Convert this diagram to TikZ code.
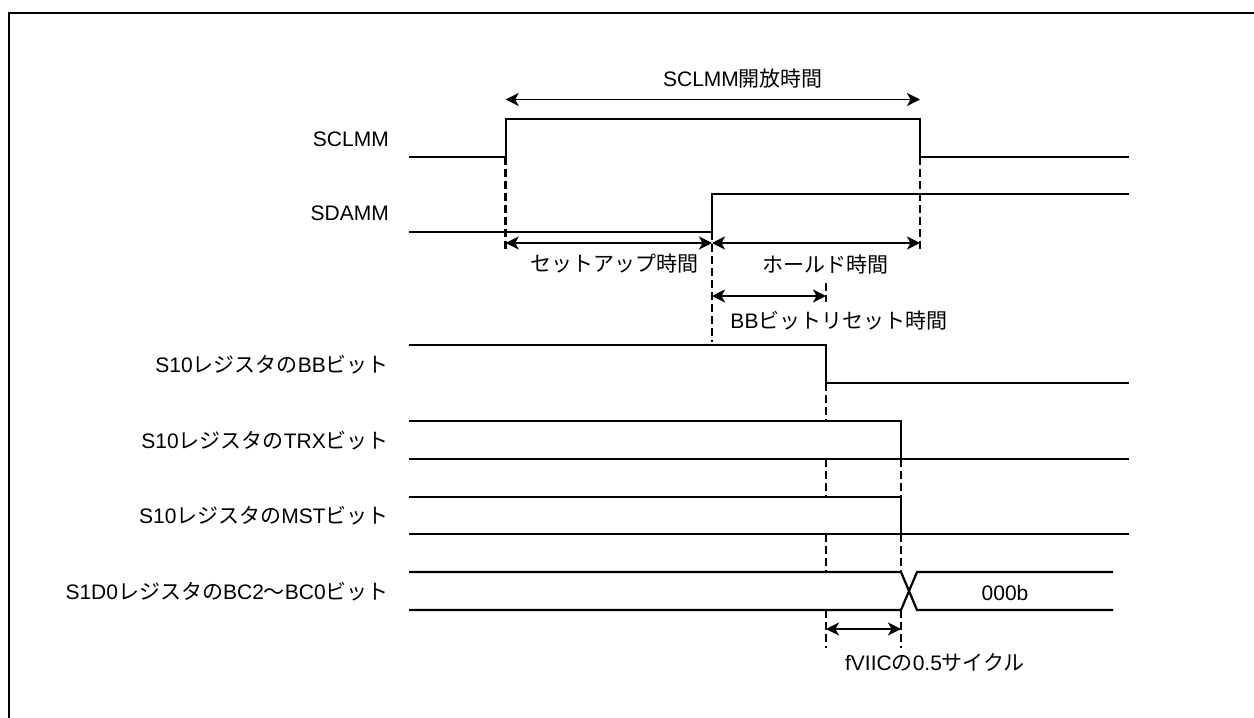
\documentclass[tikz,border=0pt]{standalone}
\usepackage{fontspec}
\setmainfont{Liberation Sans}
\newfontfamily\jpfont{Noto Sans CJK JP}
\newcommand{\jtxt}[1]{{\jpfont #1}}
\usetikzlibrary{arrows.meta}

\tikzstyle{sigline}=[line width=2.2pt]
\tikzstyle{guide}=[line width=2.5pt,dash pattern=on 8pt off 4pt]
\tikzstyle{dimarrow}=[line width=1.7pt,{Stealth[length=13pt,width=13pt,inset=3.5pt]}-{Stealth[length=13pt,width=13pt,inset=3.5pt]}]
\tikzstyle{sname}=[anchor=base east,inner sep=0pt,font=\fontsize{21}{25}\selectfont]
\tikzstyle{dimlabel}=[anchor=base,inner sep=0pt,font=\fontsize{21}{25}\selectfont]

\begin{document}
\begin{tikzpicture}[x=1pt,y=-1pt]
\useasboundingbox (0,0) rectangle (1254,718);
\draw[line width=2.4pt] (9,720) -- (9,13) -- (1256,13);

% signal names
\foreach \pos/\name/\txt in {{(389,146)/sclmm/SCLMM}, {(389,220)/sdamm/SDAMM},
  {(389,372)/bb/S10\jtxt{レジスタの}BB\jtxt{ビット}}, {(389,448)/trx/S10\jtxt{レジスタの}TRX\jtxt{ビット}},
  {(389,523)/mst/S10\jtxt{レジスタの}MST\jtxt{ビット}}, {(389,599)/bc/S1D0\jtxt{レジスタの}BC2\jtxt{～}BC0\jtxt{ビット}}}
\node[sname] (\name) at \pos {\txt};

% waveforms
\draw[sigline] (409,157) -- (505.7,157) -- (505.7,119) -- (920,119) -- (920,157) -- (1129,157);
\draw[sigline] (409,232) -- (712,232) -- (712,194) -- (1129,194);
\draw[sigline] (409,345) -- (826,345) -- (826,383) -- (1129,383);
\draw[sigline] (409,421) -- (901,421) -- (901,459);
\draw[sigline] (409,459) -- (1129,459);
\draw[sigline] (409,497) -- (901,497) -- (901,534);
\draw[sigline] (409,534) -- (1129,534);
\draw[sigline] (409,572) -- (901,572) -- (917,610) -- (1113,610);
\draw[sigline] (409,610) -- (901,610) -- (917,572) -- (1113,572);
\node[dimlabel] (val) at (1005,600) {000b};

% guides
\foreach \x/\ya/\yb in {505.7/157/252, 920/157/253, 712/232/342, 826/283/302,
  826/383/421, 826/459/497, 826/534/572, 826/610/648,
  901/459/497, 901/534/572, 901/610/648}
\draw[guide] (\x,\ya) -- (\x,\yb);

% time spans
\coordinate (a1) at (505.7,99.5);
\coordinate (a2) at (920,99.5);
\coordinate (s1) at (505.7,243);
\coordinate (s2) at (712,243);
\coordinate (h1) at (712,243);
\coordinate (h2) at (920,243);
\coordinate (r1) at (712,296);
\coordinate (r2) at (826,296);
\coordinate (f1) at (826,629);
\coordinate (f2) at (901,629);
\foreach \src/\dst in {a1/a2, s1/s2, h1/h2, r1/r2, f1/f2}
\draw[dimarrow] (\src) -- (\dst);

\node[dimlabel] (open) at (743,86) {SCLMM\jtxt{開放時間}};
\node[dimlabel] (setup) at (614,271) {\jtxt{セットアップ時間}};
\node[dimlabel] (hold) at (825,272) {\jtxt{ホールド時間}};
\node[dimlabel] (reset) at (839,328) {BB\jtxt{ビットリセット時間}};
\node[dimlabel] (half) at (935,670) {fVIIC\jtxt{の}0.5\jtxt{サイクル}};
\end{tikzpicture}
\end{document}
